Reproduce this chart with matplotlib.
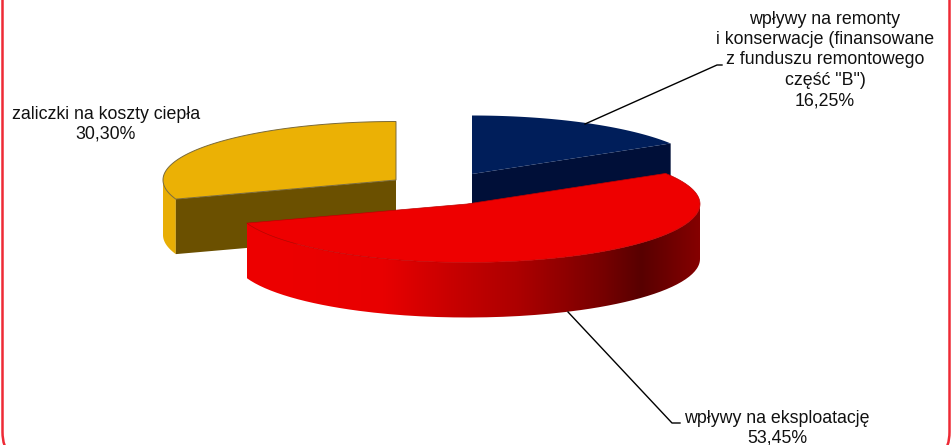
import numpy as np
import matplotlib
matplotlib.use("Agg")
import matplotlib.pyplot as plt
from matplotlib.patches import FancyBboxPatch, PathPatch, Polygon
from matplotlib.path import Path
from matplotlib.colors import LinearSegmentedColormap

# chart data
labels = [
    'wpływy na remonty\ni konserwacje (finansowane\nz funduszu remontowego\nczęść "B")\n16,25%',
    'wpływy na eksploatację\n53,45%',
    'zaliczki na koszty ciepła\n30,30%',
]
shares = [16.25, 53.45, 30.30]

# styles, one per slice
top_colors = ["#001e5a", "#ee0000", "#ebb105"]
face_colors = ["#000f38", "#a00000", "#6b5000"]
side_colors = ["#00143f", "#8a0000", "#e8ae05"]
centers = [(472, 174), (467, 204), (396, 180)]

# pie look, in pixels of the 951x445 picture
RX, RY = 233, 58.5
DEPTH = 55

plt.rcParams['font.family'] = ['Liberation Sans', 'DejaVu Sans']

fig = plt.figure(figsize=(9.51, 4.45), dpi=100)
ax = fig.add_axes([0, 0, 1, 1])
ax.set_xlim(0, 951)
ax.set_ylim(445, 0)
ax.axis("off")


# angles run clockwise from 12 o'clock, like the old office charts
def rim(center, a0, a1, n=120):
    t = np.radians(np.linspace(a0, a1, n))
    return np.column_stack([center[0] + RX * np.sin(t), center[1] - RY * np.cos(t)])


def top_shape(center, a0, a1):
    return np.vstack([[center], rim(center, a0, a1)])


def side_shape(center, a0, a1):
    # outer wall, only the part between a0 and a1
    r = rim(center, a0, a1)
    low = r[::-1] + [0, DEPTH]
    return np.vstack([r, low])


def radial_face(center, angle):
    p = rim(center, angle, angle, 1)[0]
    c = np.array(center)
    return np.array([c, p, p + [0, DEPTH], c + [0, DEPTH]])


edges = np.concatenate([[0], np.cumsum(shares)]) / sum(shares) * 360

# border of the whole chart, top and bottom run off the picture
ax.add_patch(FancyBboxPatch((2.5, -30), 947, 492, boxstyle="round,pad=0,rounding_size=30",
                            fc="white", ec="#ee2a35", lw=1.8, zorder=0))

# blue slice at the back
a0, a1 = edges[0], edges[1]
ax.add_patch(Polygon(radial_face(centers[0], a1), fc=face_colors[0], ec="none", zorder=2))
ax.add_patch(Polygon(top_shape(centers[0], a0, a1), fc=top_colors[0], ec="none", zorder=3))

# yellow slice
a0, a1 = edges[2], edges[3]
ax.add_patch(Polygon(side_shape(centers[2], a0, 270), fc=side_colors[2], ec="none", zorder=2))
ax.add_patch(Polygon(radial_face(centers[2], a0), fc=face_colors[2], ec="none", zorder=2.5))
ax.add_patch(Polygon(radial_face(centers[2], a1), fc=face_colors[2], ec="none", zorder=2.4))
ax.add_patch(Polygon(top_shape(centers[2], a0, a1), fc=top_colors[2], ec="#7a6a3a", lw=0.7, zorder=3))

# red slice in front, wall has a gradient left to right
a0, a1 = edges[1], edges[2]
wall = side_shape(centers[1], 90, a1)
wall_cmap = LinearSegmentedColormap.from_list("wall", [
    (0.0, "#ee0000"), (0.3, "#e80000"), (0.45, "#c80000"), (0.6, "#ac0000"),
    (0.78, "#780000"), (0.87, "#580000"), (1.0, "#860000")])
grad = np.linspace(0, 1, 256).reshape(1, -1)
clip = PathPatch(Path(wall), fc="none", ec="none", zorder=4)
ax.add_patch(clip)
img = ax.imshow(grad, cmap=wall_cmap, extent=(wall[:, 0].min(), wall[:, 0].max(), 445, 0),
                aspect="auto", zorder=4)
img.set_clip_path(clip)
ax.set_xlim(0, 951)
ax.set_ylim(445, 0)
ax.add_patch(Polygon(top_shape(centers[1], a0, a1), fc=top_colors[1], ec="#c00000", lw=0.5, zorder=5))

# leader lines
ax.plot([585, 717, 722], [124, 65, 65], color="black", lw=1, zorder=6)
ax.plot([568, 672, 680], [312, 423, 423], color="black", lw=1, zorder=6)

# labels
ax.text(825, 60, labels[0], ha="center", va="center", fontsize=12.8, linespacing=1.25, color="#111111", zorder=7)
ax.text(777, 428, labels[1], ha="center", va="center", fontsize=12.8, linespacing=1.18, color="#111111", zorder=7)
ax.text(106, 124.5, labels[2], ha="center", va="center", fontsize=12.8, linespacing=1.2, color="#111111", zorder=7)

fig.savefig("out.png", dpi=100)
